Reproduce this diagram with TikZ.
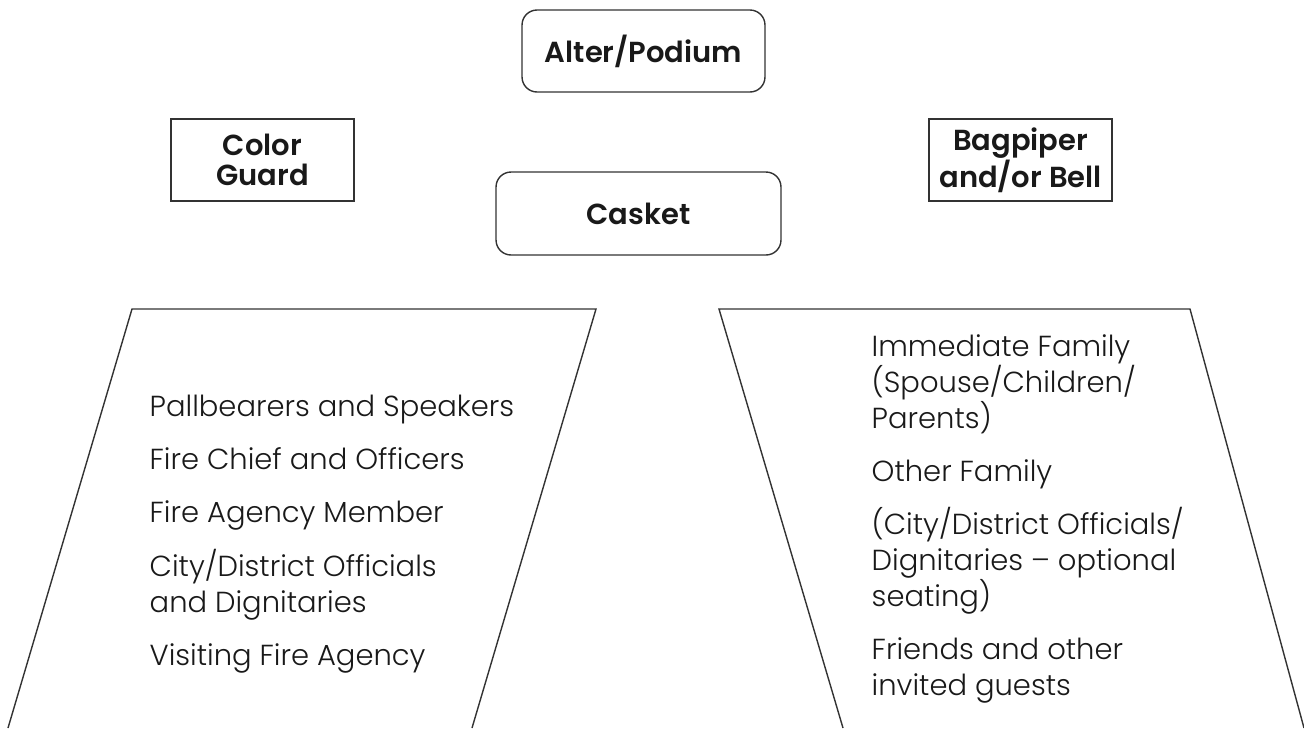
\documentclass[tikz,border=0pt]{standalone}
\usepackage{fontspec}
\setmainfont{Poppins}[UprightFont={Poppins Light},BoldFont={Poppins SemiBold}]
\usepackage{tikz}
\usetikzlibrary{positioning}

\begin{document}
\begin{tikzpicture}[x=0.02cm,y=-0.02cm,draw=black!80,line width=0.8pt]
	\tikzstyle{label box}=[draw,text=black!90,font=\bfseries\fontsize{16.5}{17}\selectfont,align=center,inner sep=0pt]
	\tikzstyle{round box}=[label box,rounded corners=0.3cm]
	\tikzstyle{seat text}=[anchor=base west,inner sep=0pt,text=black!90,font=\fontsize{16.5}{20}\selectfont]
	
	\useasboundingbox (0,0) rectangle (1304,728);
	
	% Draw the front boxes
	\node[round box,minimum width=4.86cm,minimum height=1.64cm] (altar) at (643.5,51) {Alter/Podium};
	\node[round box,minimum width=5.70cm,minimum height=1.66cm] (casket) at (638.5,213.5) {Casket};
	\node[label box,minimum width=3.66cm,minimum height=1.64cm] (guard) at (262.5,160) {Color\\Guard};
	\node[label box,minimum width=3.66cm,minimum height=1.64cm] (piper) at (1020.5,160) {Bagpiper\\and/or Bell};
	
	% Draw the seating areas
	\draw (8,728) -- (132,309) -- (596,309) -- (472,728);
	\draw (843,728) -- (719,309) -- (1190,309) -- (1304,728);
	
	% Left side seating
	\foreach \name / \y / \txt in {1/416/{Pallbearers and Speakers},2/469/{Fire Chief and Officers},3/522/{Fire Agency Member},4/576/{City/District Officials},5/612/{and Dignitaries},6/665/{Visiting Fire Agency}}
	\node[seat text] (L-\name) at (149,\y) {\txt};
	
	% Right side seating
	\foreach \name / \y / \txt in {1/356/{Immediate Family},2/392/{(Spouse/Children/},3/428/{Parents)},4/481/{Other Family},5/534/{(City/District Officials/},6/570/{Dignitaries -- optional},7/606/{seating)},8/659/{Friends and other},9/695/{invited guests}}
	\node[seat text] (R-\name) at (871,\y) {\txt};
	
\end{tikzpicture}
\end{document}
